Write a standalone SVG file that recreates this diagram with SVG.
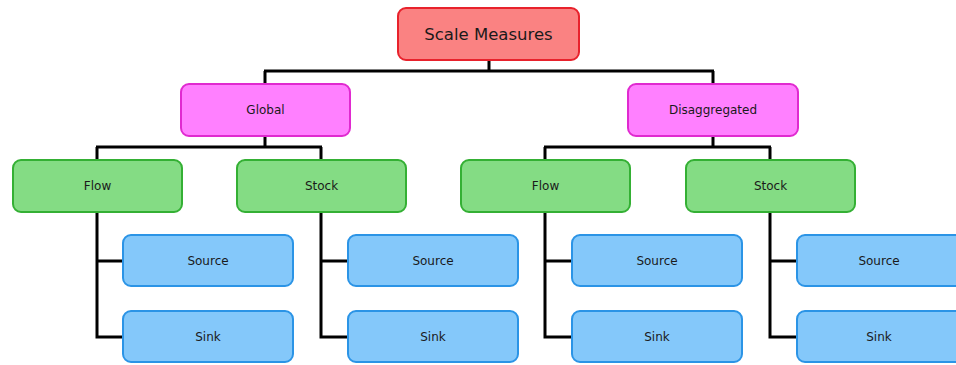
<svg xmlns="http://www.w3.org/2000/svg" width="956" height="365" viewBox="0 0 956 365">
  <style>
    .box { stroke-width: 2; }
    .root { fill: #fa8282; stroke: #e8222c; }
    .mid { fill: #ff80ff; stroke: #e02ad0; }
    .kind { fill: #84dc84; stroke: #34b034; }
    .leaf { fill: #84c8fa; stroke: #2b94e6; }
    text { font-family: "DejaVu Sans", "Liberation Sans", sans-serif; font-size: 12px; fill: #1a1a1a; text-anchor: middle; dominant-baseline: central; }
    .title { font-size: 16.5px; }
    .wire { fill: none; stroke: #000; stroke-width: 3; }
  </style>

  <!-- connectors -->
  <g id="connectors" class="wire">
    <path d="M489 60 V71 M264 71 H714 M265 71 V84 M713 71 V84"/>
    <path d="M265 136 V147 M96 147 H322 M97 147 V160 M321 147 V160"/>
    <path d="M713 136 V147 M544 147 H771 M545 147 V160 M770 147 V160"/>
    <path d="M97 212 V337 H123 M97 261 H123"/>
    <path d="M321 212 V337 H348 M321 261 H348"/>
    <path d="M545 212 V337 H572 M545 261 H572"/>
    <path d="M770 212 V337 H797 M770 261 H797"/>
  </g>

  <g id="scale-measures">
    <rect class="box root" x="398" y="8" width="181" height="52" rx="8"/>
    <text class="title" x="488.5" y="34">Scale Measures</text>
  </g>

  <g id="global">
    <rect class="box mid" x="181" y="84" width="169" height="52" rx="8"/>
    <text x="265.5" y="110">Global</text>
  </g>
  <g id="disaggregated">
    <rect class="box mid" x="628" y="84" width="170" height="52" rx="8"/>
    <text x="713" y="110">Disaggregated</text>
  </g>

  <g id="global-flow">
    <rect class="box kind" x="13" y="160" width="169" height="52" rx="8"/>
    <text x="97.5" y="186">Flow</text>
  </g>
  <g id="global-stock">
    <rect class="box kind" x="237" y="160" width="169" height="52" rx="8"/>
    <text x="321.5" y="186">Stock</text>
  </g>
  <g id="disaggregated-flow">
    <rect class="box kind" x="461" y="160" width="169" height="52" rx="8"/>
    <text x="545.5" y="186">Flow</text>
  </g>
  <g id="disaggregated-stock">
    <rect class="box kind" x="686" y="160" width="169" height="52" rx="8"/>
    <text x="770.5" y="186">Stock</text>
  </g>

  <g id="global-flow-source">
    <rect class="box leaf" x="123" y="235" width="170" height="51" rx="8"/>
    <text x="208" y="261">Source</text>
  </g>
  <g id="global-flow-sink">
    <rect class="box leaf" x="123" y="311" width="170" height="51" rx="8"/>
    <text x="208" y="337">Sink</text>
  </g>
  <g id="global-stock-source">
    <rect class="box leaf" x="348" y="235" width="170" height="51" rx="8"/>
    <text x="433" y="261">Source</text>
  </g>
  <g id="global-stock-sink">
    <rect class="box leaf" x="348" y="311" width="170" height="51" rx="8"/>
    <text x="433" y="337">Sink</text>
  </g>
  <g id="disaggregated-flow-source">
    <rect class="box leaf" x="572" y="235" width="170" height="51" rx="8"/>
    <text x="657" y="261">Source</text>
  </g>
  <g id="disaggregated-flow-sink">
    <rect class="box leaf" x="572" y="311" width="170" height="51" rx="8"/>
    <text x="657" y="337">Sink</text>
  </g>
  <g id="disaggregated-stock-source">
    <rect class="box leaf" x="797" y="235" width="170" height="51" rx="8"/>
    <text x="879" y="261">Source</text>
  </g>
  <g id="disaggregated-stock-sink">
    <rect class="box leaf" x="797" y="311" width="170" height="51" rx="8"/>
    <text x="879" y="337">Sink</text>
  </g>
</svg>
